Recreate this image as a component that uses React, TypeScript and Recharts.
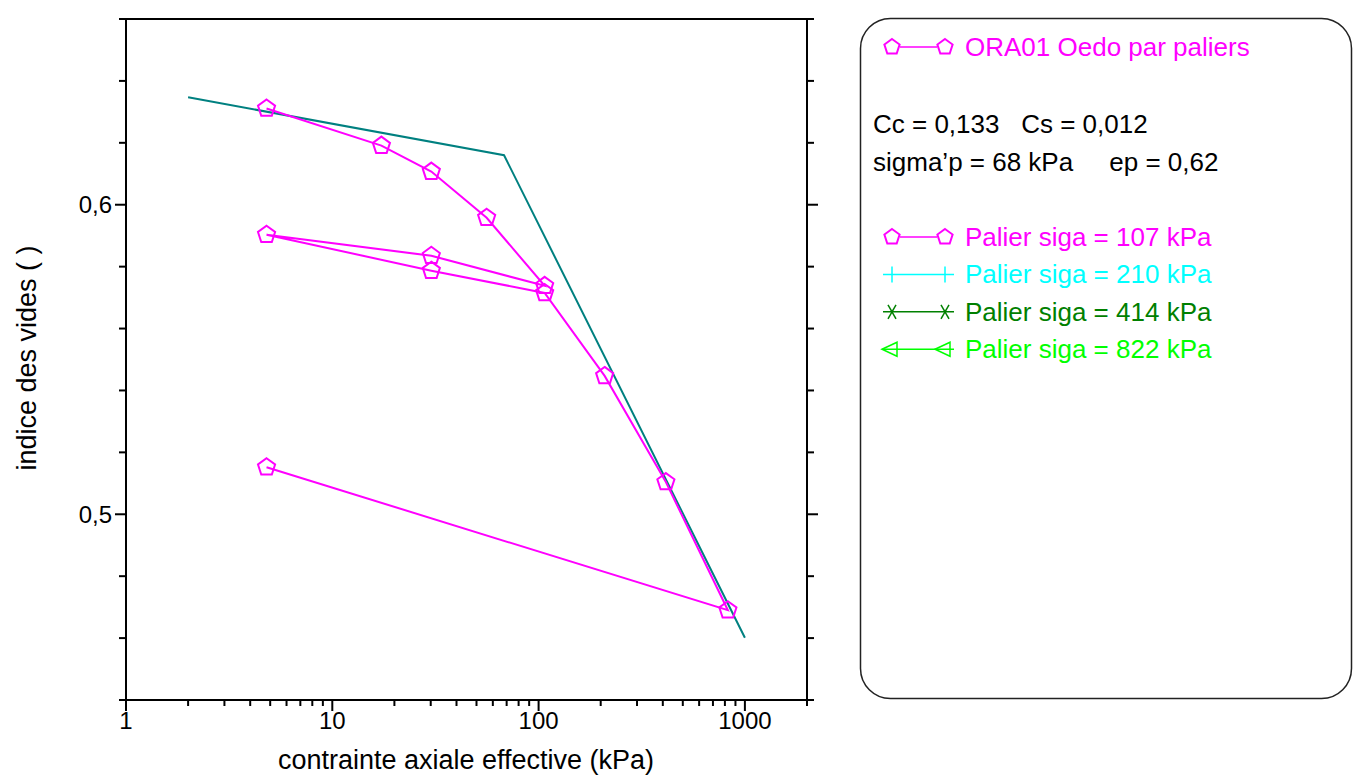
import React from "react";
import { ComposedChart, Line, XAxis, YAxis } from "recharts";

// ORA01 oedometer test, loading by steps
const stress = [4.8, 17.3, 30.2, 56, 107, 30.2, 4.8, 30.2, 107, 209, 414, 827, 4.8];
const voidRatio = [0.6311, 0.6191, 0.6107, 0.5958, 0.5738, 0.5835, 0.5903, 0.5787, 0.5715, 0.5447, 0.5104, 0.469, 0.5152];

// Cc / Cs bilinear fit
const fitStress = [2, 68, 1000];
const fitVoid = [0.6347, 0.616, 0.4601];

const xTicks = [1, 2, 3, 4, 5, 6, 7, 8, 9, 10, 20, 30, 40, 50, 60, 70, 80, 90, 100, 200, 300, 400, 500, 600, 700, 800, 900, 1000, 2000];
const yTicks = [0.44, 0.46, 0.48, 0.5, 0.52, 0.54, 0.56, 0.58, 0.6, 0.62, 0.64, 0.66];

const legendItems = [
  { label: "Palier siga = 107 kPa", color: "#FF00FF", marker: "pentagon" },
  { label: "Palier siga = 210 kPa", color: "#00FFFF", marker: "plus" },
  { label: "Palier siga = 414 kPa", color: "#008000", marker: "star" },
  { label: "Palier siga = 822 kPa", color: "#00FF00", marker: "triangle" },
];

const FONT = '"Liberation Sans", Arial, sans-serif';
const MAGENTA = "#FF00FF";
const TEAL = "#008080";

const mainData = stress.map((s, i) => ({ s, e: voidRatio[i] }));
const fitData = fitStress.map((s, i) => ({ s, e: fitVoid[i] }));

const isDecade = (v: number) => Math.abs(Math.log10(v) - Math.round(Math.log10(v))) < 1e-9;
const isTenth = (v: number) => Math.abs(v * 10 - Math.round(v * 10)) < 1e-6;

function Pentagon({ cx, cy, r = 9, color }: { cx: number; cy: number; r?: number; color: string }) {
  const pts = [0, 1, 2, 3, 4]
    .map((k) => {
      const a = ((-90 + 72 * k) * Math.PI) / 180;
      return `${cx + r * Math.cos(a)},${cy + r * Math.sin(a)}`;
    })
    .join(" ");
  return <polygon points={pts} fill="none" stroke={color} strokeWidth={2} />;
}

function BottomTick({ x, y, payload }: any) {
  const v = payload.value;
  const major = isDecade(v);
  return (
    <g>
      <line x1={x} x2={x} y1={y} y2={y + (major ? 11 : 6)} stroke="#000" strokeWidth={2} />
      {major && (
        <text x={x} y={y + 20} textAnchor="middle" dominantBaseline="central" fontFamily={FONT} fontSize={24} fill="#000">
          {v}
        </text>
      )}
    </g>
  );
}

function TopTick({ x, y, payload }: any) {
  const major = isDecade(payload.value);
  return <line x1={x} x2={x} y1={y} y2={y - (major ? 11 : 6)} stroke="#000" strokeWidth={2} />;
}

function LeftTick({ x, y, payload }: any) {
  const v = payload.value;
  const major = isTenth(v);
  return (
    <g>
      <line x1={x - (major ? 11 : 7)} x2={x} y1={y} y2={y} stroke="#000" strokeWidth={2} />
      {major && (
        <text x={x - 14} y={y} textAnchor="end" dominantBaseline="central" fontFamily={FONT} fontSize={24} fill="#000">
          {v.toFixed(1).replace(".", ",")}
        </text>
      )}
    </g>
  );
}

function RightTick({ x, y, payload }: any) {
  const major = isTenth(payload.value);
  return <line x1={x} x2={x + (major ? 11 : 7)} y1={y} y2={y} stroke="#000" strokeWidth={2} />;
}

function LegendMarker({ kind, color, y }: { kind: string; color: string; y: number }) {
  const xs = [892, 945];
  return (
    <g stroke={color} strokeWidth={1.5} fill="none">
      {kind === "pentagon" ? (
        <>
          <line x1={900} x2={937} y1={y} y2={y} />
          {xs.map((cx) => (
            <Pentagon key={cx} cx={cx} cy={y} r={8} color={color} />
          ))}
        </>
      ) : (
        <line x1={883} x2={954} y1={y} y2={y} />
      )}
      {kind === "plus" && xs.map((cx) => <line key={cx} x1={cx} x2={cx} y1={y - 8} y2={y + 8} />)}
      {kind === "star" &&
        xs.map((cx) => (
          <g key={cx}>
            <line x1={cx - 4} x2={cx + 4} y1={y - 7} y2={y + 7} />
            <line x1={cx + 4} x2={cx - 4} y1={y - 7} y2={y + 7} />
          </g>
        ))}
      {kind === "triangle" &&
        [890, 943].map((cx) => (
          <polygon key={cx} points={`${cx - 8},${y} ${cx + 7},${y - 7} ${cx + 7},${y + 7}`} />
        ))}
    </g>
  );
}

export default function App() {
  return (
    <div style={{ position: "absolute", left: 0, top: 0, width: 1361, height: 780, background: "#fff" }}>
      <ComposedChart width={1361} height={780} margin={{ top: 4, right: 534, bottom: 20, left: 56 }}>
        <XAxis
          xAxisId="b"
          dataKey="s"
          type="number"
          scale="log"
          domain={[1, 2000]}
          ticks={xTicks}
          interval={0}
          allowDataOverflow
          tick={<BottomTick />}
          tickSize={0}
          tickMargin={0}
          height={60}
          axisLine={{ stroke: "#000", strokeWidth: 2 }}
        />
        <XAxis
          xAxisId="t"
          orientation="top"
          type="number"
          scale="log"
          domain={[1, 2000]}
          ticks={xTicks}
          interval={0}
          allowDataOverflow
          tick={<TopTick />}
          tickSize={0}
          tickMargin={0}
          height={15}
          axisLine={{ stroke: "#000", strokeWidth: 2 }}
        />
        <YAxis
          yAxisId="l"
          type="number"
          domain={[0.44, 0.66]}
          ticks={yTicks}
          interval={0}
          allowDataOverflow
          tick={<LeftTick />}
          tickSize={0}
          tickMargin={0}
          width={70}
          axisLine={{ stroke: "#000", strokeWidth: 2 }}
        />
        <YAxis
          yAxisId="r"
          orientation="right"
          type="number"
          domain={[0.44, 0.66]}
          ticks={yTicks}
          interval={0}
          allowDataOverflow
          tick={<RightTick />}
          tickSize={0}
          tickMargin={0}
          width={20}
          axisLine={{ stroke: "#000", strokeWidth: 2 }}
        />
        <Line
          data={fitData}
          dataKey="e"
          xAxisId="b"
          yAxisId="l"
          stroke={TEAL}
          strokeWidth={2}
          dot={false}
          isAnimationActive={false}
        />
        <Line
          data={mainData}
          dataKey="e"
          xAxisId="b"
          yAxisId="l"
          stroke={MAGENTA}
          strokeWidth={2}
          dot={(p: any) => <Pentagon key={p.index} cx={p.cx} cy={p.cy} color={MAGENTA} />}
          isAnimationActive={false}
        />
      </ComposedChart>

      <svg width={1361} height={780} style={{ position: "absolute", left: 0, top: 0, pointerEvents: "none" }}>
        <text x={466} y={760} textAnchor="middle" dominantBaseline="central" fontFamily={FONT} fontSize={27} fill="#000">
          contrainte axiale effective (kPa)
        </text>
        <text
          transform="translate(27,358) rotate(-90)"
          textAnchor="middle"
          dominantBaseline="central"
          fontFamily={FONT}
          fontSize={27}
          fill="#000"
        >
          indice des vides ( )
        </text>

        <rect x={860.5} y={18.5} width={491} height={680} rx={30} fill="none" stroke="#222" strokeWidth={1.5} />
        <g fontFamily={FONT} fontSize={26} dominantBaseline="central">
          <LegendMarker kind="pentagon" color={MAGENTA} y={47} />
          <text x={965} y={47} fill={MAGENTA}>ORA01 Oedo par paliers</text>
          <text x={873} y={124} fill="#000" xmlSpace="preserve">Cc = 0,133   Cs = 0,012</text>
          <text x={873} y={162} fill="#000" xmlSpace="preserve">sigma’p = 68 kPa     ep = 0,62</text>
          {legendItems.map((it, i) => {
            const y = 237 + i * 37.4;
            return (
              <g key={it.label}>
                <LegendMarker kind={it.marker} color={it.color} y={y} />
                <text x={965} y={y} fill={it.color}>{it.label}</text>
              </g>
            );
          })}
        </g>
      </svg>
    </div>
  );
}
